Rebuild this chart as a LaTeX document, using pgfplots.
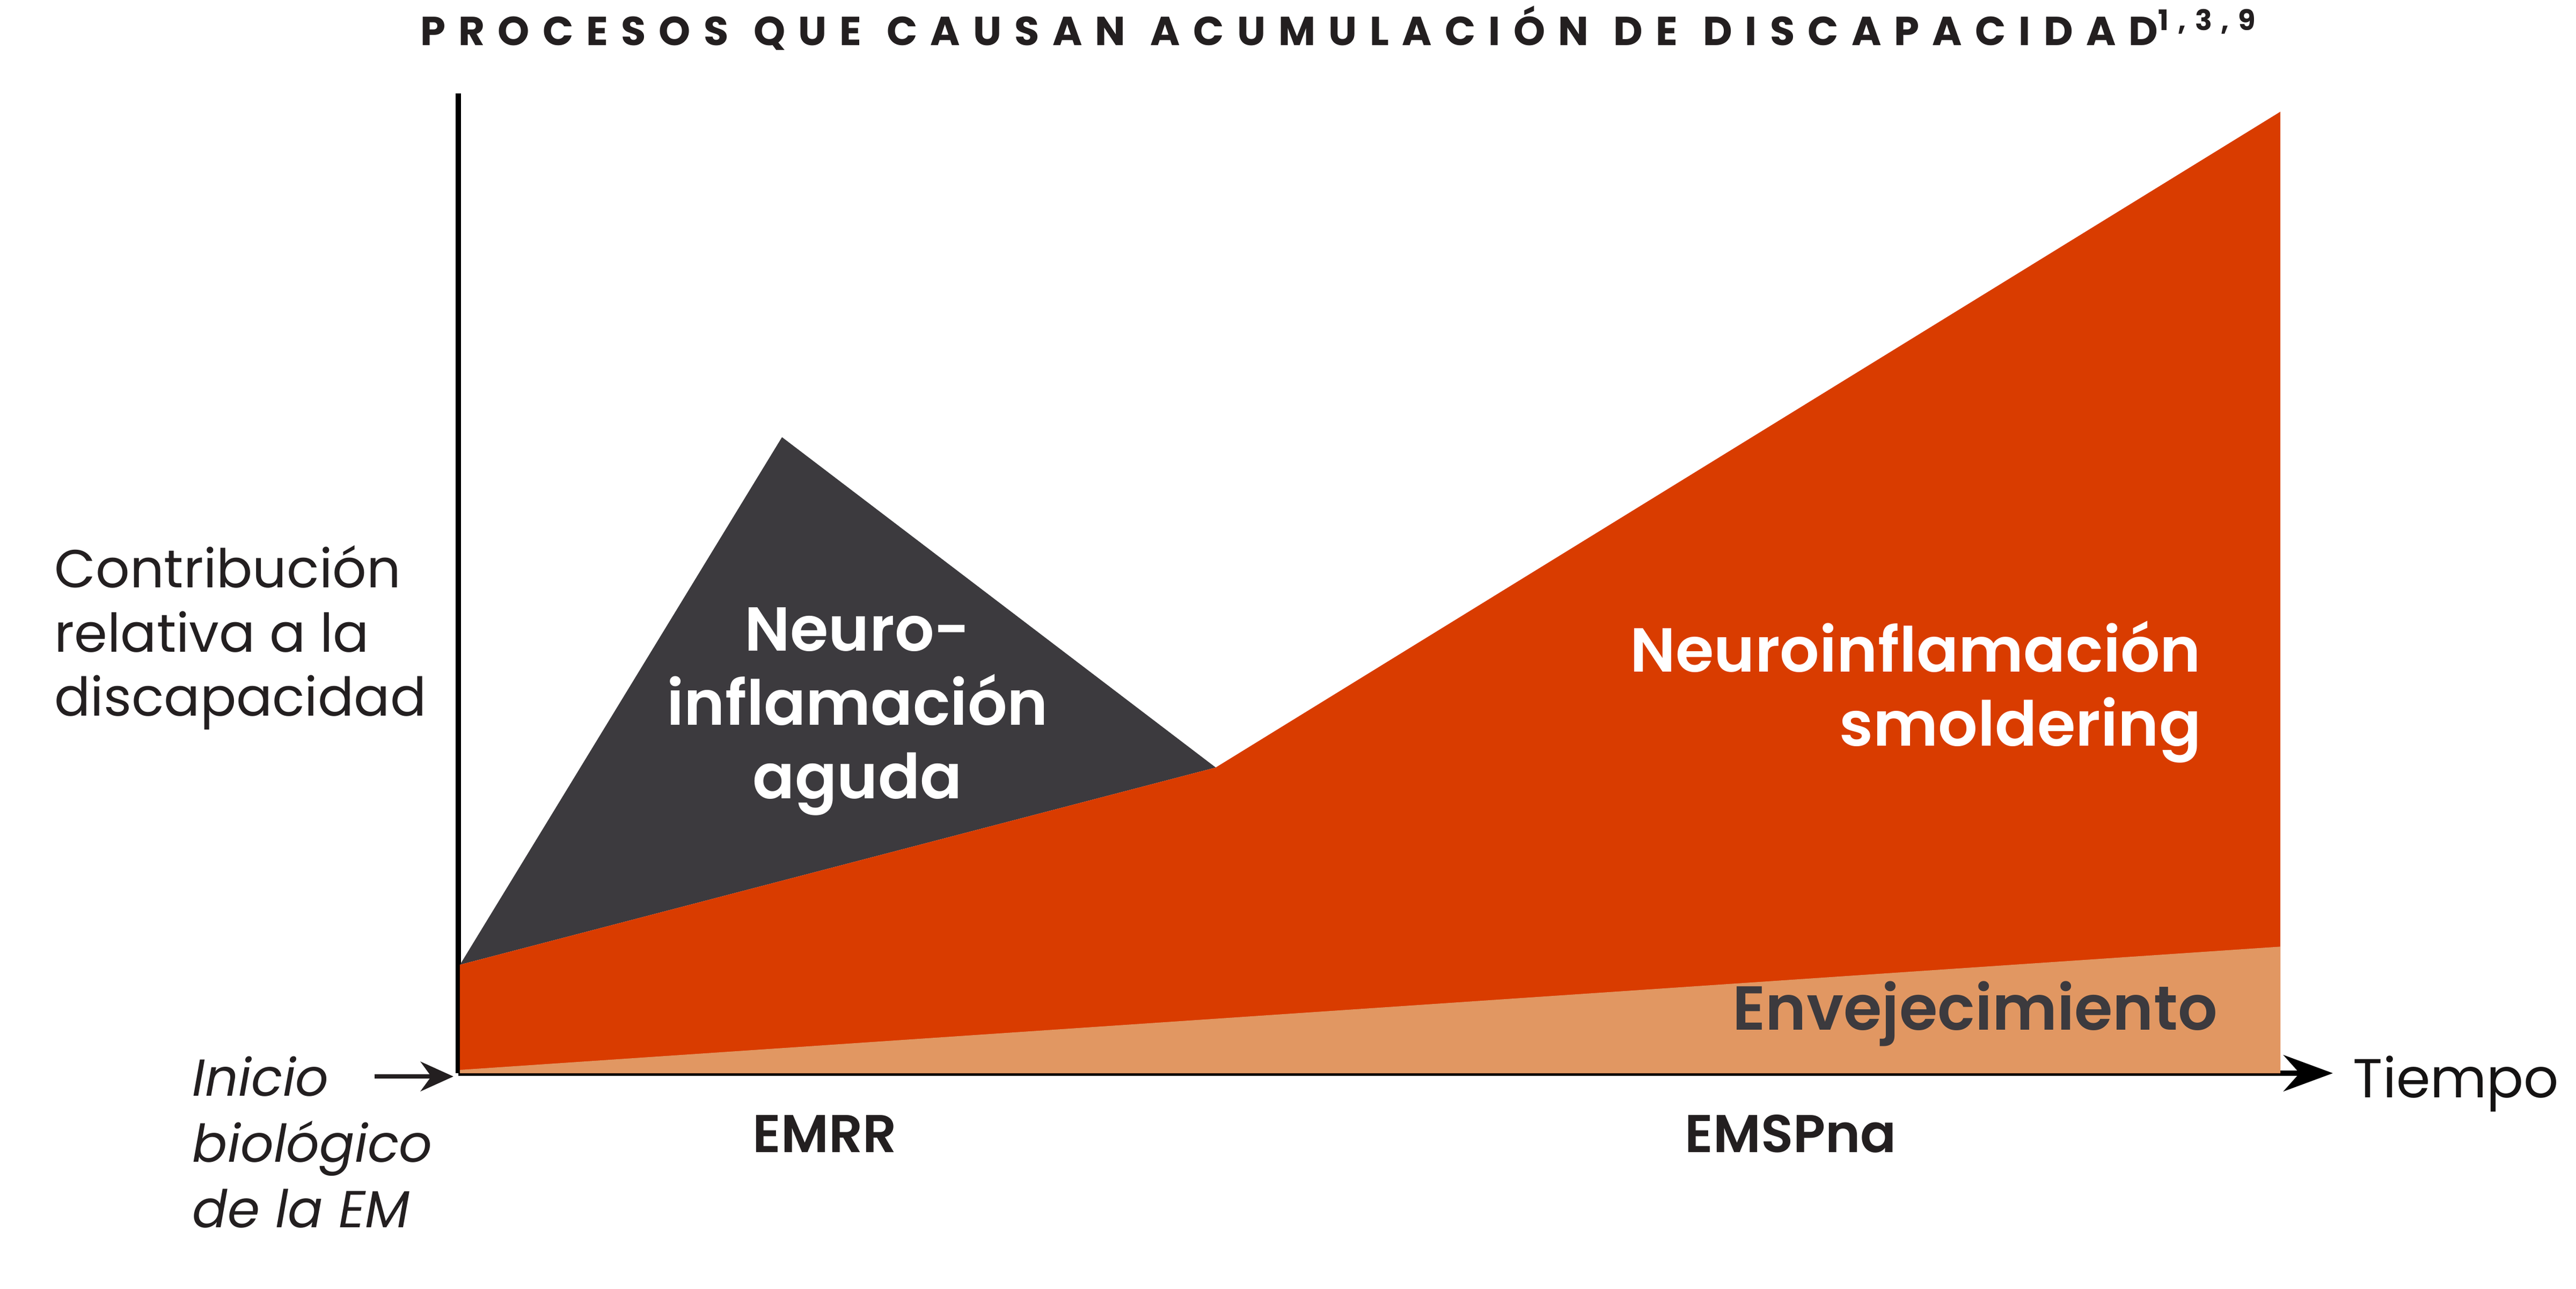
\documentclass[border=0pt]{standalone}
\usepackage{fontspec}
\setmainfont{Poppins}
\newfontfamily\semib{Poppins SemiBold}
\usepackage{pgfplots}
\pgfplotsset{compat=1.18}
\usetikzlibrary{arrows.meta}

\definecolor{smold}{HTML}{D93C00}
\definecolor{aging}{HTML}{E19762}
\definecolor{acute}{HTML}{3C3A3E}
\definecolor{ink}{HTML}{231F20}

\begin{document}
\begin{tikzpicture}
\begin{axis}[
    scale only axis,
    width=228.2mm,
    height=119.2mm,
    xmin=279, xmax=1420,
    ymin=0, ymax=596,
    axis x line=bottom,
    axis y line=left,
    x axis line style={line width=1.9pt, -{Stealth[length=6mm, width=4.4mm]}},
    y axis line style={line width=1.9pt, -},
    xtick=\empty, ytick=\empty,
    clip=false,
]
    % aguda
    \addplot[fill=acute, draw=none] coordinates {(280,66) (476,387) (740,186)} -- cycle;
    % smoldering
    \addplot[fill=smold, draw=none] coordinates {(280,66) (740,186) (1388,585) (1388,0) (280,0)} -- cycle;
    % envejecimiento
    \addplot[fill=aging, draw=none] coordinates {(280,2) (1388,77) (1388,0) (280,0)} -- cycle;

    \path (axis cs:0,-131) rectangle (axis cs:1568,653);

    \node[anchor=center, inner sep=0pt, text=ink, font={\fontsize{14}{16}\selectfont\bfseries\addfontfeatures{LetterSpace=32}\spaceskip=0.62em}]
        at (axis cs:815,636) {PROCESOS QUE CAUSAN ACUMULACIÓN DE DISCAPACIDAD\textsuperscript{1,3,9}};

    \node[anchor=west, align=left, text=ink, font={\fontsize{18.5}{22.2}\selectfont}]
        at (axis cs:27,265) {Contribución\\relativa a la\\discapacidad};

    \node[anchor=center, align=center, text=white, font={\fontsize{21.5}{25.6}\selectfont\semib}]
        at (axis cs:522,220) {Neuro-\\inflamación\\aguda};
    \node[anchor=east, align=right, text=white, font={\fontsize{21.5}{25.6}\selectfont\semib}]
        at (axis cs:1346,232) {Neuroinflamación\\smoldering};
    \node[anchor=east, text=acute, font={\fontsize{21.5}{25.6}\selectfont\semib}]
        at (axis cs:1356,36) {Envejecimiento};

    \node[anchor=center, text=ink, font={\fontsize{18.4}{22}\selectfont\semib}]
        at (axis cs:502,-37) {EMRR};
    \node[anchor=center, text=ink, font={\fontsize{18.4}{22}\selectfont\semib}]
        at (axis cs:1090,-37) {EMSPna};

    \node[anchor=base west, inner sep=0pt, text=ink!60!black, font={\fontsize{19}{22}\selectfont}]
        at (axis cs:1432,-15) {Tiempo};

    \node[anchor=west, align=left, text=ink, font={\fontsize{18}{22.8}\selectfont\itshape}]
        at (axis cs:111,-42) {Inicio\\biológico\\de la EM};
    \draw[ink, line width=1.4pt, -{Stealth[length=4mm, width=3.6mm]}] (axis cs:228,-2) -- (axis cs:276,-2);
\end{axis}
\end{tikzpicture}
\end{document}
